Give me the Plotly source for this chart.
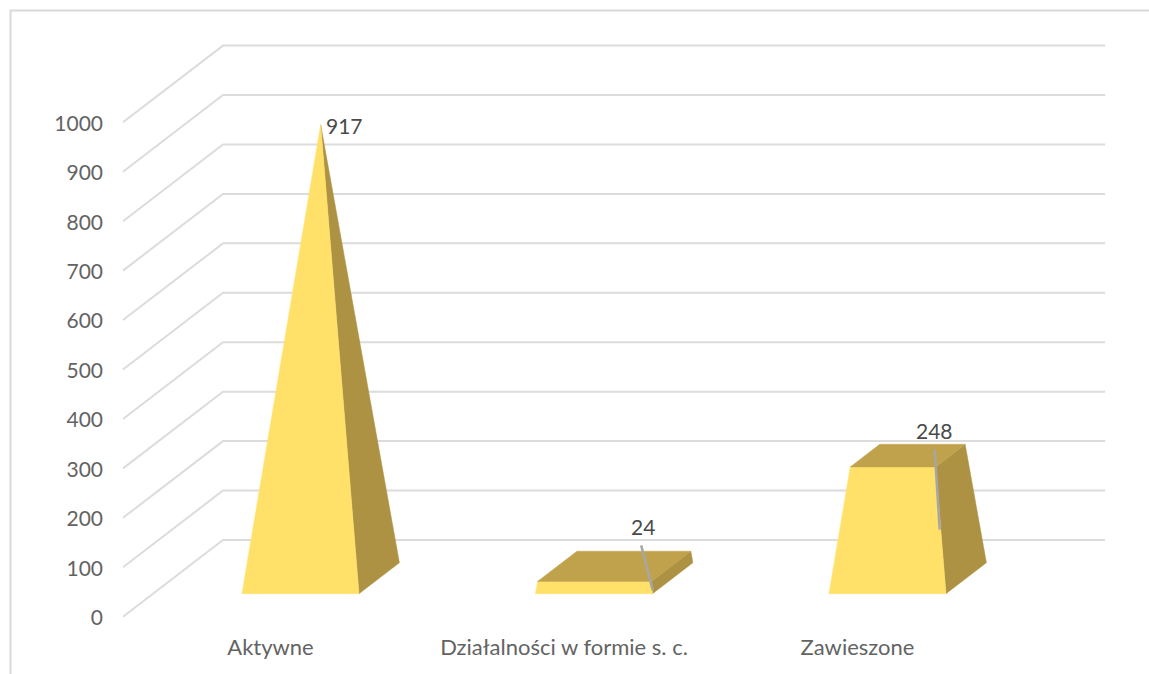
import plotly.graph_objects as go

categories = ["Aktywne", "Działalności w formie s. c.", "Zawieszone"]
values = [917, 24, 248]
value_ticks = [0, 100, 200, 300, 400, 500, 600, 700, 800, 900, 1000]

W, H = 1149, 674
FONT = "Lato"
TICK_COLOR = "#636363"
LABEL_COLOR = "#4A4A4A"
GRID = "#DCDCDC"
FRONT, SIDE, TOP = "#FFE16A", "#AD9243", "#C0A24C"

# oblique projection of the 3-D chart box onto the flat plotly axes
PX_PER_CAT = 293.5          # horizontal pixels per category
PX_PER_VAL = 0.4944         # vertical pixels per value unit
X0_PX, Y0_PX = 270.5, 616.7 # pixel of category 0, value 0, front of floor
DEPTH_X = 100 / PX_PER_CAT  # shift of the floor depth, in category units
DEPTH_Y = 76.7 / PX_PER_VAL # shift of the floor depth, in value units
D_FRONT, D_BACK = 0.30, 0.704
HALF = 58.5 / PX_PER_CAT
WALL_L, WALL_R = -0.5026, 2.503


def proj(u, value, depth):
    return u + depth * DEPTH_X, value + depth * DEPTH_Y


def shift(pt, dx_px, dy_px):
    return pt[0] + dx_px / PX_PER_CAT, pt[1] - dy_px / PX_PER_VAL


fig = go.Figure()

# walls: gridlines from the value axis
gx, gy = [], []
for v in value_ticks:
    a, b, c = proj(WALL_L, v, 0), proj(WALL_L, v, 1), proj(WALL_R, v, 1)
    gx += [a[0], b[0], c[0], None]
    gy += [a[1], b[1], c[1], None]
fig.add_trace(go.Scatter(x=gx, y=gy, mode="lines", line=dict(color=GRID, width=2),
                         hoverinfo="skip", showlegend=False))


def poly(points, color):
    fig.add_trace(go.Scatter(
        x=[p[0] for p in points] + [points[0][0]],
        y=[p[1] for p in points] + [points[0][1]],
        mode="lines", fill="toself", fillcolor=color,
        line=dict(color=color, width=0.5), hoverinfo="skip", showlegend=False))


peak = max(values)
d_mid = (D_FRONT + D_BACK) / 2


def corner(i, value, side, depth):
    """Corner of the pyramid frustum cut at `value`."""
    t = value / peak
    u = i + side * HALF * (1 - t)
    d = d_mid + (depth - d_mid) * (1 - t)
    return proj(u, value, d)


for i, v in enumerate(values):
    fl, fr = corner(i, 0, -1, D_FRONT), corner(i, 0, 1, D_FRONT)
    br = corner(i, 0, 1, D_BACK)
    tfl, tfr = corner(i, v, -1, D_FRONT), corner(i, v, 1, D_FRONT)
    tbl, tbr = corner(i, v, -1, D_BACK), corner(i, v, 1, D_BACK)
    poly([fr, br, tbr, tfr], SIDE)
    poly([fl, fr, tfr, tfl], FRONT)
    if v < peak:
        poly([tfl, tfr, tbr, tbl], TOP)

# data labels and leader lines, placed relative to each bar's top
label_offsets = [(24, 1), (29, -40), (27, -25)]
leader_offsets = [None, ((27, -21), (38.5, 24)), ((27, -6), (32, 74))]
for i, v in enumerate(values):
    top = corner(i, v, 0, d_mid)
    lx, ly = shift(top, *label_offsets[i])
    fig.add_annotation(x=lx, y=ly, text=str(v), showarrow=False,
                       font=dict(family=FONT, size=21, color=LABEL_COLOR))
    if leader_offsets[i]:
        p, q = shift(top, *leader_offsets[i][0]), shift(top, *leader_offsets[i][1])
        fig.add_trace(go.Scatter(x=[p[0], q[0]], y=[p[1], q[1]], mode="lines",
                                 line=dict(color="#A6A6A6", width=2.5),
                                 hoverinfo="skip", showlegend=False))

fig.update_layout(
    width=W, height=H, autosize=False,
    margin=dict(l=0, r=0, t=0, b=0),
    paper_bgcolor="white", plot_bgcolor="white",
    showlegend=False,
    xaxis=dict(
        range=[-X0_PX / PX_PER_CAT, (W - X0_PX) / PX_PER_CAT],
        domain=[0, 1], anchor="free", position=(H - 632) / H,
        tickmode="array", tickvals=list(range(len(categories))), ticktext=categories,
        showgrid=False, zeroline=False, showline=False, ticks="",
        tickfont=dict(family=FONT, size=22, color=TICK_COLOR),
    ),
    yaxis=dict(
        range=[(Y0_PX - H) / PX_PER_VAL, Y0_PX / PX_PER_VAL],
        domain=[0, 1], anchor="free", position=103 / W,
        tickmode="array", tickvals=value_ticks, ticktext=[str(v) for v in value_ticks],
        ticklabelshift=1,
        showgrid=False, zeroline=False, showline=False, ticks="",
        tickfont=dict(family=FONT, size=21, color=TICK_COLOR),
    ),
    shapes=[dict(type="path", xref="paper", yref="paper",
                 path=f"M {10.5 / W} 0 L {10.5 / W} {1 - 10.5 / H} L 1 {1 - 10.5 / H}",
                 line=dict(color="#D9D9D9", width=2))],
)

fig.write_html("out.html", config=dict(displayModeBar=False),
               post_script="document.body.style.margin='0';document.body.style.overflow='hidden';")
